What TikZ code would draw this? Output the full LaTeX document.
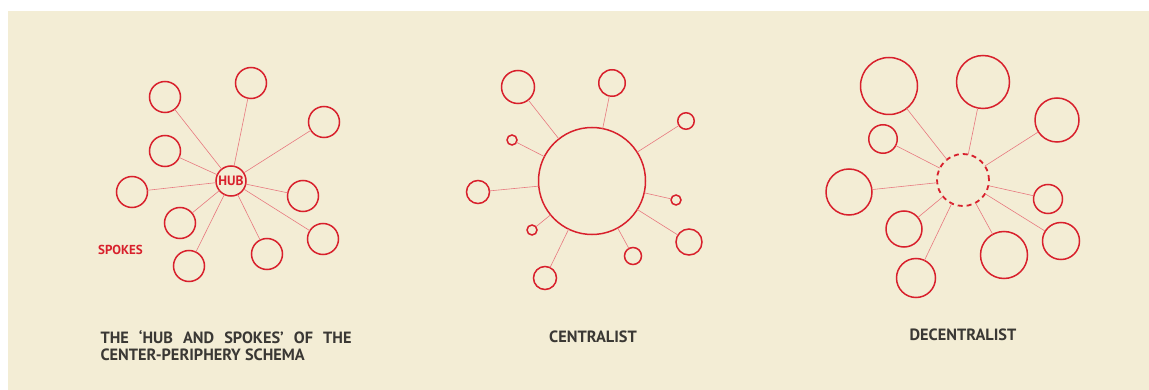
\documentclass[tikz,border=0pt]{standalone}
\usepackage{fontspec}
\setmainfont{PT Sans}
\usetikzlibrary{positioning}
\definecolor{paper}{HTML}{F3EDD5}
\definecolor{spokered}{HTML}{D8202C}
\definecolor{linkred}{HTML}{E8797F}
\definecolor{inkgrey}{HTML}{3A3834}

\begin{document}
\begin{tikzpicture}[x=1pt, y=-1pt,
    ring/.style={circle, draw=spokered, line width=1.5pt, inner sep=0pt, outer sep=0pt},
    link/.style={draw=linkred, line width=0.6pt},
    caption/.style={font=\fontsize{16.3}{17}\selectfont\bfseries, text=inkgrey}]
  % Papier
  \useasboundingbox (0,0) rectangle (1149,390);
  \fill[white] (0,0) rectangle (1149,390);
  \fill[paper] (8,11) rectangle (1149,390);

  % Hub and spokes
  \node[ring, minimum size=30pt, font=\fontsize{13.5}{13.5}\selectfont\bfseries, text=spokered] (hub) at (231,181) {HUB};
  \node[ring, minimum size=31pt] (s1) at (165,97) {};
  \node[ring, minimum size=31pt] (s2) at (251,83) {};
  \node[ring, minimum size=31pt] (s3) at (324,122) {};
  \node[ring, minimum size=31pt] (s4) at (165,151) {};
  \node[ring, minimum size=31pt] (s5) at (132,192) {};
  \node[ring, minimum size=31pt] (s6) at (303,196) {};
  \node[ring, minimum size=31pt] (s7) at (180,223) {};
  \node[ring, minimum size=31pt] (s8) at (323,239) {};
  \node[ring, minimum size=31pt] (s9) at (267,254) {};
  \node[ring, minimum size=31pt] (s10) at (189,266) {};
  \foreach \s in {s1,s2,s3,s4,s5,s6,s7,s8,s9,s10}
    \draw[link] (hub) -- (\s);
  \node[font=\fontsize{13}{13}\selectfont\bfseries, text=spokered] (spokes) at (120.5,250) {SPOKES};
  \node[caption, anchor=west, text width=251pt, align=justify] (title1) at (97,345.5)
    {THE ‘HUB AND SPOKES’ OF THE\linebreak CENTER-PERIPHERY SCHEMA};

  % Centralist
  \node[ring, minimum size=107pt] (core) at (592,181) {};
  \node[ring, minimum size=33pt] (c1) at (518,87) {};
  \node[ring, minimum size=26.5pt] (c2) at (612,83) {};
  \node[ring, minimum size=16.5pt] (c3) at (686,121) {};
  \node[ring, minimum size=10pt] (c4) at (512,140) {};
  \node[ring, minimum size=23pt] (c5) at (478,192) {};
  \node[ring, minimum size=10pt] (c6) at (676,200) {};
  \node[ring, minimum size=10pt] (c7) at (532,230) {};
  \node[ring, minimum size=26pt] (c8) at (689,242) {};
  \node[ring, minimum size=17pt] (c9) at (633,256) {};
  \node[ring, minimum size=23pt] (c10) at (545,278) {};
  \foreach \c in {c1,c2,c3,c4,c5,c6,c7,c8,c9,c10}
    \draw[link] (core) -- (\c);
  \node[caption] (title2) at (593,337) {CENTRALIST};

  % Decentralist
  \node[ring, minimum size=52pt, dash pattern=on 5pt off 4pt, line width=1.8pt] (void) at (963,180) {};
  \node[ring, minimum size=57pt] (d1) at (889,86) {};
  \node[ring, minimum size=53pt] (d2) at (983,82) {};
  \node[ring, minimum size=44pt] (d3) at (1057,120) {};
  \node[ring, minimum size=28.5pt] (d4) at (883,139) {};
  \node[ring, minimum size=46pt] (d5) at (849,192) {};
  \node[ring, minimum size=29pt] (d6) at (1048,199) {};
  \node[ring, minimum size=36pt] (d7) at (904,229) {};
  \node[ring, minimum size=37pt] (d8) at (1061,241) {};
  \node[ring, minimum size=47pt] (d9) at (1004,255) {};
  \node[ring, minimum size=39pt] (d10) at (916,278) {};
  \foreach \d in {d1,d2,d3,d4,d5,d6,d7,d8,d9,d10}
    \draw[link] (void) -- (\d);
  \node[caption] (title3) at (963,335) {DECENTRALIST};
\end{tikzpicture}
\end{document}
